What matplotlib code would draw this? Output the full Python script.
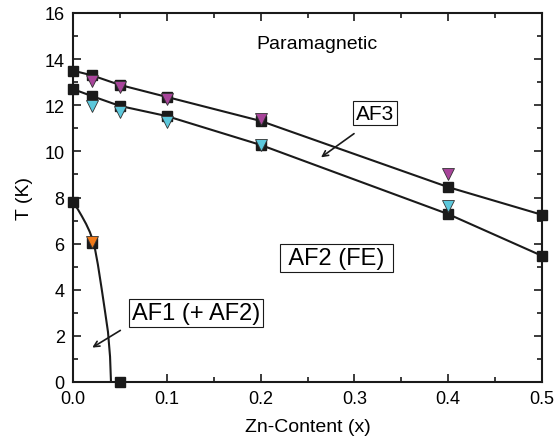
import matplotlib
matplotlib.use("Agg")
import matplotlib.pyplot as plt
from matplotlib.ticker import MultipleLocator, FormatStrFormatter

plt.rcParams['font.family'] = ['Liberation Sans', 'DejaVu Sans']

# upper (AF3 / paramagnetic) boundary, squares
x_sq = [0.0, 0.02, 0.05, 0.1, 0.2, 0.4, 0.5]
t_upper = [13.5, 13.3, 12.88, 12.36, 11.32, 8.45, 7.25]
# lower (AF2 / AF3) boundary, squares
t_lower = [12.7, 12.4, 11.97, 11.53, 10.28, 7.28, 5.47]

# triangles from second measurement
x_tri = [0.02, 0.05, 0.1, 0.2, 0.4]
t_magenta = [13.05, 12.8, 12.28, 11.4, 9.02]
t_cyan = [11.97, 11.7, 11.27, 10.28, 7.63]

# AF1 boundary
x_af1 = [0.0, 0.02, 0.05]
t_af1 = [7.8, 6.03, 0.0]
x_orange = [0.02]
t_orange = [6.05]

# AF1 guide curve
x_curve = [0.0, 0.005, 0.0093, 0.014, 0.018, 0.0224, 0.0265, 0.0306, 0.034, 0.0373, 0.0395, 0.0405]
t_curve = [7.8, 7.5, 7.2, 6.85, 6.5, 6.0, 5.1, 4.03, 3.1, 2.17, 1.1, 0.0]

fig = plt.figure(figsize=(5.57, 4.39), dpi=100)
ax = fig.add_axes([73 / 557, 1 - 383 / 439, 469 / 557, 369 / 439])

ax.plot(x_sq, t_upper, color='#1a1a1a', lw=1.5, zorder=2)
ax.plot(x_sq, t_lower, color='#1a1a1a', lw=1.5, zorder=2)
ax.plot(x_curve, t_curve, color='#1a1a1a', lw=1.5, zorder=2)

sq = dict(marker='s', ms=7.5, color='#1a1a1a', ls='none', zorder=3, clip_on=False)
ax.plot(x_sq, t_upper, **sq)
ax.plot(x_sq, t_lower, **sq)
ax.plot(x_af1, t_af1, **sq)

tri = dict(marker='v', ms=8, ls='none', mec='#333333', mew=0.6, zorder=4, clip_on=False)
ax.plot(x_tri, t_magenta, mfc='#a8449a', **tri)
ax.plot(x_tri, t_cyan, mfc='#5cc8dc', **tri)
ax.plot(x_orange, t_orange, mfc='#f07a1a', **tri)

ax.set_xlim(0, 0.5)
ax.set_ylim(0, 16)
ax.xaxis.set_major_locator(MultipleLocator(0.1))
ax.xaxis.set_minor_locator(MultipleLocator(0.05))
ax.yaxis.set_major_locator(MultipleLocator(2))
ax.yaxis.set_minor_locator(MultipleLocator(1))
ax.xaxis.set_major_formatter(FormatStrFormatter('%.1f'))
ax.tick_params(which='both', direction='in', top=True, right=True, labelsize=13, width=1.2, color='#1a1a1a')
ax.tick_params(which='major', length=6, pad=6)
ax.tick_params(which='minor', length=3.5)
for s in ax.spines.values():
    s.set_linewidth(1.5)
    s.set_color('#1a1a1a')

ax.set_xlabel('Zn-Content (x)', fontsize=14, labelpad=8)
ax.set_ylabel('T (K)', fontsize=14, labelpad=8)

ax.text(0.196, 14.66, 'Paramagnetic', fontsize=14, va='center')
box = dict(boxstyle='square,pad=0.12', fc='white', ec='#1a1a1a', lw=0.8)
ax.text(0.322, 11.66, 'AF3', fontsize=15, ha='center', va='center', bbox=box)
ax.text(0.281, 5.38, ' AF2 (FE) ', fontsize=17, ha='center', va='center', bbox=box)
ax.text(0.131, 2.99, 'AF1 (+ AF2)', fontsize=17, ha='center', va='center', bbox=box)

arr = dict(arrowstyle='->', color='#1a1a1a', lw=1.2)
ax.annotate('', xy=(0.262, 9.67), xytext=(0.302, 10.84), arrowprops=arr)
ax.annotate('', xy=(0.018, 1.43), xytext=(0.053, 2.3), arrowprops=arr)

fig.savefig('out.png', dpi=100)
